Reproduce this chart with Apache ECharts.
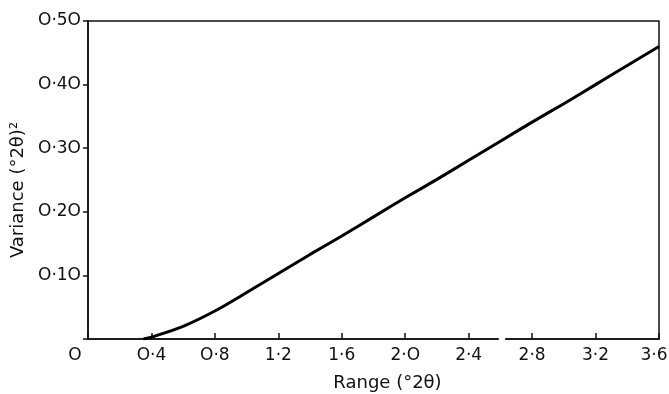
<!DOCTYPE html>
<html>
<head>
<meta charset="utf-8">
<script src="https://cdn.jsdelivr.net/npm/echarts@6/dist/echarts.min.js"></script>
<style>
  html, body { margin: 0; padding: 0; background: #fff; }
  #chart { width: 669px; height: 394px; }
</style>
</head>
<body>
<div id="chart"></div>
<script>
// range (°2θ) and variance (°2θ)²
const rangeValues = [0.35, 0.4, 0.6, 0.8, 1.0, 1.2, 1.4, 1.6, 1.8, 2.0, 2.2, 2.4, 2.6, 2.8, 3.0, 3.2, 3.4, 3.6];
const varianceValues = [0, 0.003, 0.020, 0.044, 0.073, 0.103, 0.133, 0.162, 0.192, 0.222, 0.251, 0.281, 0.311, 0.341, 0.370, 0.400, 0.430, 0.460];

const xTicks = [0, 0.4, 0.8, 1.2, 1.6, 2.0, 2.4, 2.8, 3.2, 3.6];
const yTicks = [0, 0.1, 0.2, 0.3, 0.4, 0.5];
const axisBreak = [2.59, 2.63]; // little gap in the x axis line

const font = "DejaVu Sans";

// zeros are drawn round in the original type, dot is a raised point
function fmt(v, digits) {
  return v.toFixed(digits).replace(".", "·").replace(/0/g, "O");
}

const chart = echarts.init(document.getElementById("chart"));

const option = {
  animation: false,
  backgroundColor: "#fff",
  grid: {
    left: 88,
    right: 10,
    top: 21,
    bottom: 55,
    outerBoundsMode: "none",
    show: true,
    borderColor: "#111",
    borderWidth: 1.5,
  },
  xAxis: {
    type: "value",
    min: 0,
    max: 3.6,
    interval: 0.4,
    name: "Range (°2θ)",
    nameLocation: "middle",
    nameGap: 35,
    nameTextStyle: { fontFamily: font, fontSize: 18, color: "#111", padding: [0, 0, 0, 28] },
    axisLine: { lineStyle: { color: "#111", width: 1.5 } },
    axisTick: { inside: true, length: 6, lineStyle: { color: "#111", width: 1.5 } },
    splitLine: { show: false },
    axisLabel: {
      margin: 8,
      fontFamily: font,
      fontSize: 17,
      color: "#111",
      formatter: (v) => {
        if (v === 0) return "{o|O}";
        if (Math.abs(v - 3.6) < 1e-9) return "{e|" + fmt(v, 1) + "}";
        return fmt(v, 1);
      },
      rich: {
        o: { fontFamily: font, fontSize: 17, color: "#111", padding: [0, 26, 0, 0] },
        e: { fontFamily: font, fontSize: 17, color: "#111", padding: [0, 10, 0, 0] },
      },
    },
  },
  yAxis: {
    type: "value",
    min: 0,
    max: 0.5,
    interval: 0.1,
    name: "Variance (°2θ)²",
    nameLocation: "middle",
    nameGap: 48,
    nameTextStyle: { fontFamily: font, fontSize: 18, color: "#111", padding: [0, 20, 0, 0] },
    axisLine: { show: true, lineStyle: { color: "#111", width: 1.5 } },
    axisTick: { show: true, length: 5, lineStyle: { color: "#111", width: 1.5 } },
    splitLine: { show: false },
    axisLabel: {
      margin: 7,
      fontFamily: font,
      fontSize: 17,
      color: "#111",
      formatter: (v) => (v === 0 ? "" : fmt(v, 2)),
    },
  },
  series: [
    {
      type: "line",
      data: rangeValues.map((r, i) => [r, varianceValues[i]]),
      smooth: 0.3,
      showSymbol: false,
      lineStyle: { color: "#000", width: 3 },
    },
  ],
};

chart.setOption(option);

// white out the small break in the x axis line
const p0 = chart.convertToPixel({ gridIndex: 0 }, [axisBreak[0], 0]);
const p1 = chart.convertToPixel({ gridIndex: 0 }, [axisBreak[1], 0]);
chart.setOption({
  graphic: [
    {
      type: "rect",
      shape: { x: p0[0], y: p0[1] - 2, width: p1[0] - p0[0], height: 4 },
      style: { fill: "#fff" },
      z: 100,
    },
  ],
});
</script>
</body>
</html>
